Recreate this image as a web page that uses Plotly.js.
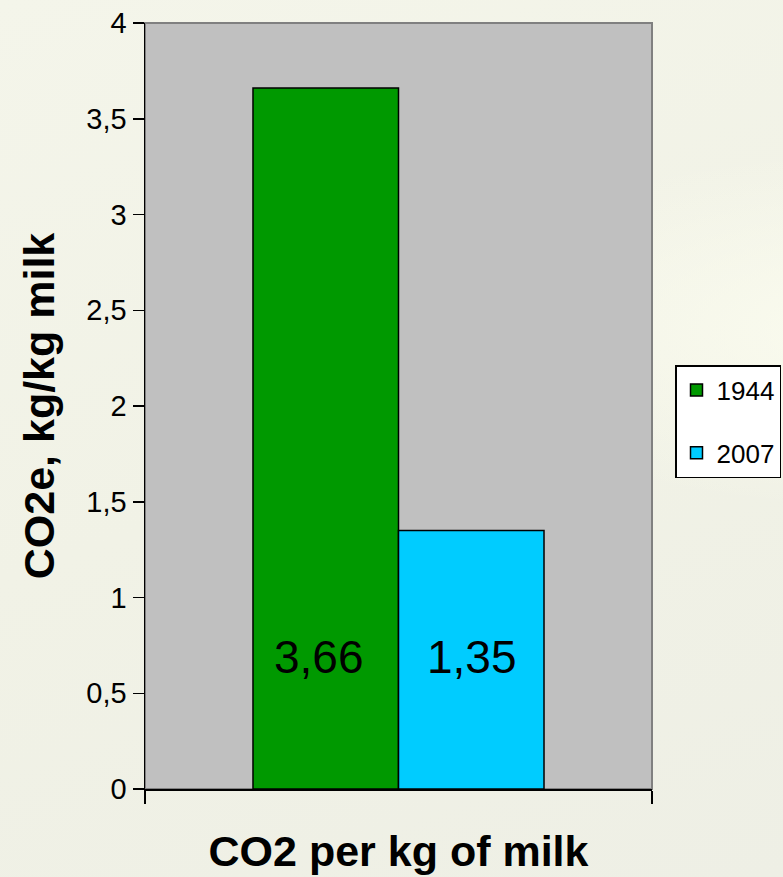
<!DOCTYPE html>
<html><head><meta charset="utf-8">
<script src="https://cdn.plot.ly/plotly-3.0.1.min.js"></script>
<style>
html,body{margin:0;padding:0;width:783px;height:877px;overflow:hidden;
background: linear-gradient(160deg,#f4f5ea 0%,#f1f2e6 50%,#eeefe5 100%);}
#swoosh{position:absolute;left:0;top:0;width:783px;height:877px;
background: radial-gradient(ellipse 700px 260px at 900px 330px, rgba(252,253,240,0.9) 0%, rgba(252,253,240,0) 70%);}
#chart{position:absolute;left:0;top:0;width:783px;height:877px;}
</style></head>
<body><div id="swoosh"></div><div id="chart"></div>
<script>
const categories = ["CO2 per kg of milk"];
const seriesNames = ["1944", "2007"];
const values1944 = [3.66];
const values2007 = [1.35];
const colors = ["#009900", "#00ccff"];
const yTicks = [0, 0.5, 1, 1.5, 2, 2.5, 3, 3.5, 4];

const fmt = v => v.toFixed(2).replace('.', ',');

const traces = [values1944, values2007].map((vals, i) => ({
  type: 'bar', x: categories, y: vals, name: seriesNames[i],
  legendgroup: 'g' + i,
  marker: {color: colors[i], line: {color: '#000', width: 1.5}},
  hoverinfo: 'none'
}));

const annotations = [values1944, values2007].map((vals, i) => ({
  x: categories[0], y: 0.69, xref: 'x', yref: 'y',
  xshift: i === 0 ? -80 : 73,
  text: fmt(vals[0]), showarrow: false,
  font: {family: 'Liberation Sans, Arial, sans-serif', size: 46, color: '#000'}
}));

const layout = {
  width: 783, height: 877,
  margin: {l: 145, r: 131, t: 23, b: 88, autoexpand: false},
  paper_bgcolor: 'rgba(0,0,0,0)', plot_bgcolor: '#c0c0c0',
  separators: ',.',
  barmode: 'group', bargap: 0.426, bargroupgap: 0,
  font: {family: 'Liberation Sans, Arial, sans-serif', color: '#000'},
  xaxis: {
    type: 'category', showticklabels: false, tickson: 'boundaries',
    ticks: 'outside', ticklen: 13, tickwidth: 1.5, tickcolor: '#000',
    showline: true, linecolor: '#000', linewidth: 1.5, showgrid: false, zeroline: false,
    title: {text: '<b>CO2 per kg of milk</b>', font: {size: 43}, standoff: 46}
  },
  yaxis: {
    range: [0, 4], tickvals: yTicks, ticks: 'outside', ticklen: 11, tickwidth: 1.5, tickcolor: '#000',
    tickfont: {size: 29}, showline: true, linecolor: '#000', linewidth: 1.5,
    showgrid: false, zeroline: false,
    title: {text: '<b>CO2e, kg/kg milk</b>', font: {size: 43}, standoff: 18}
  },
  legend: {
    xref: 'container', yref: 'container',
    x: 781/783, xanchor: 'right', y: (877-365)/877, yanchor: 'top',
    bgcolor: '#fff', bordercolor: '#000', borderwidth: 1.5,
    font: {size: 26}, itemwidth: 30, tracegroupgap: 26, traceorder: 'grouped'
  },
  shapes: [{type: 'rect', xref: 'paper', yref: 'paper', x0: 0, x1: 1, y0: 0, y1: 1,
    line: {color: '#808080', width: 2}, fillcolor: 'rgba(0,0,0,0)', layer: 'below'}],
  annotations: annotations,
  showlegend: true
};

Plotly.newPlot('chart', traces, layout, {displayModeBar: false, staticPlot: true});
</script></body></html>
